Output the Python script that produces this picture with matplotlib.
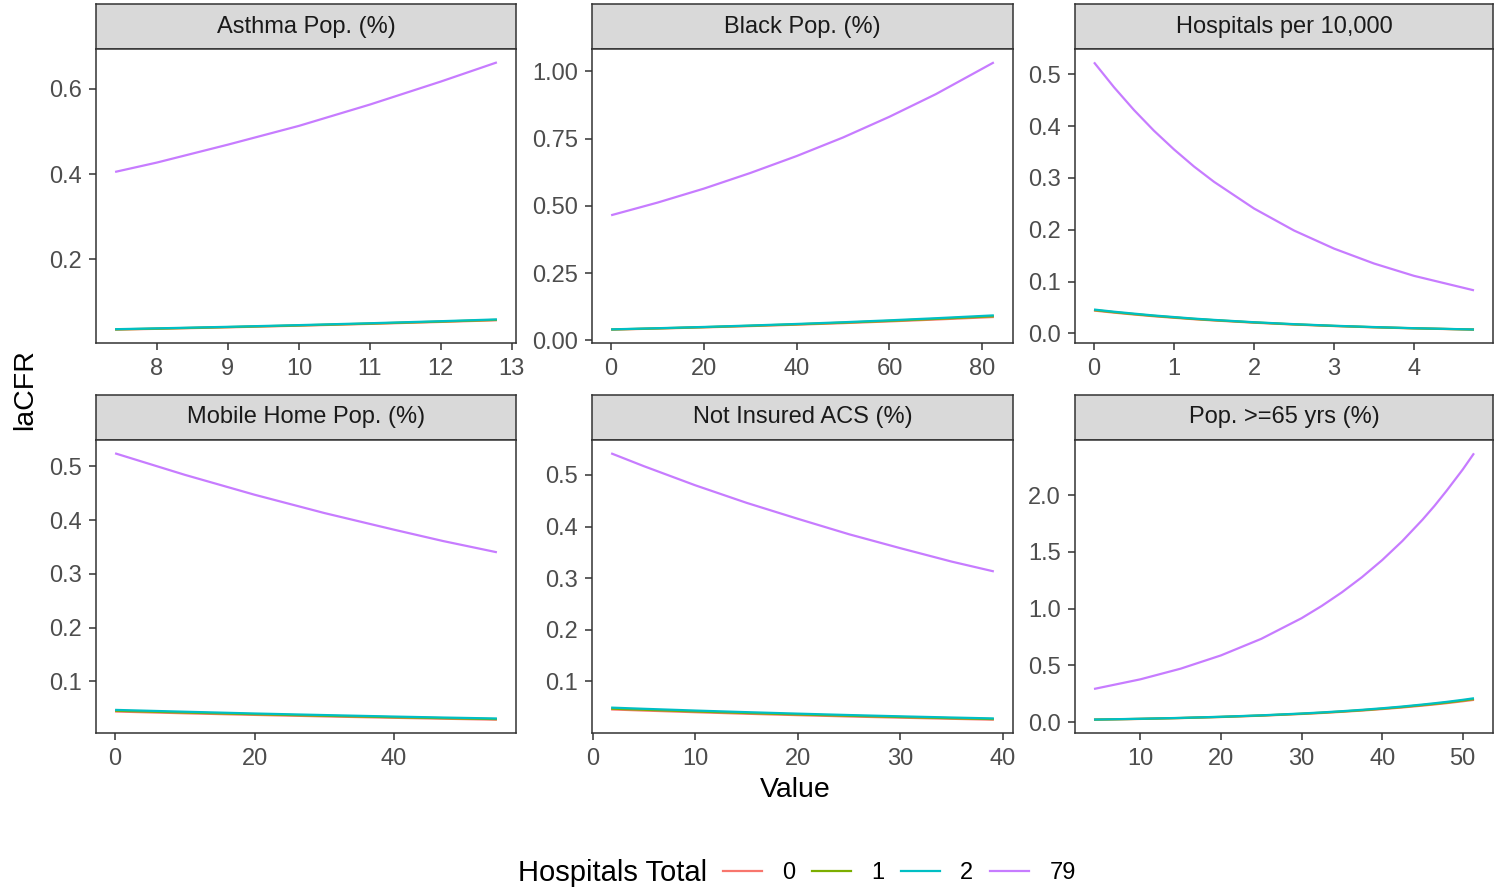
import matplotlib
matplotlib.use('Agg')
import matplotlib.pyplot as plt
from matplotlib.ticker import FormatStrFormatter
from matplotlib.lines import Line2D

plt.rcParams['font.family'] = ['Liberation Sans', 'DejaVu Sans']

groups = ['0', '1', '2', '79']
colors = ['#F8766D', '#7CAE00', '#00BFC4', '#C77CFF']

facet_titles = ['Asthma Pop. (%)', 'Black Pop. (%)', 'Hospitals per 10,000',
                'Mobile Home Pop. (%)', 'Not Insured ACS (%)', 'Pop. >=65 yrs (%)']

asthma_x = [7.41, 8, 9, 10, 11, 12, 12.79]
asthma_y = {
    '0': [0.035, 0.0369, 0.0404, 0.0443, 0.0485, 0.0531, 0.057],
    '1': [0.0355, 0.0374, 0.041, 0.0449, 0.0492, 0.0539, 0.058],
    '2': [0.036, 0.038, 0.0416, 0.0456, 0.0500, 0.0548, 0.059],
    '79': [0.405, 0.427, 0.469, 0.513, 0.563, 0.617, 0.662],
}

black_x = [0, 10, 20, 30, 40, 50, 60, 70, 82.5]
black_y = {
    '0': [0.040, 0.0440, 0.0484, 0.0532, 0.0584, 0.0642, 0.0706, 0.0776, 0.087],
    '1': [0.0405, 0.0447, 0.0492, 0.0543, 0.0598, 0.0659, 0.0726, 0.0800, 0.090],
    '2': [0.041, 0.0453, 0.050, 0.0553, 0.0611, 0.0675, 0.0746, 0.0824, 0.093],
    '79': [0.465, 0.512, 0.564, 0.622, 0.685, 0.754, 0.831, 0.915, 1.033],
}

hosp_x = [0, 0.25, 0.5, 0.75, 1, 1.25, 1.5, 2, 2.5, 3, 3.5, 4, 4.75]
hosp_y = {
    '0': [0.044, 0.040, 0.0364, 0.0330, 0.0301, 0.0273, 0.0249, 0.0206, 0.0170, 0.0141, 0.0116, 0.0096, 0.0072],
    '1': [0.045, 0.0409, 0.0372, 0.0338, 0.0308, 0.0279, 0.0255, 0.0211, 0.0174, 0.0144, 0.0119, 0.0098, 0.0074],
    '2': [0.046, 0.0418, 0.0381, 0.0345, 0.0315, 0.0285, 0.0260, 0.0215, 0.0178, 0.0147, 0.0122, 0.0100, 0.0075],
    '79': [0.523, 0.475, 0.431, 0.391, 0.355, 0.322, 0.2925, 0.241, 0.1985, 0.1636, 0.1348, 0.111, 0.083],
}

mobile_x = [0, 10, 20, 30, 40, 47, 54.75]
mobile_y = {
    '0': [0.044, 0.0407, 0.0377, 0.0349, 0.0323, 0.0306, 0.0288],
    '1': [0.0455, 0.0421, 0.039, 0.0361, 0.0334, 0.0317, 0.0299],
    '2': [0.047, 0.0436, 0.0403, 0.0374, 0.0346, 0.0328, 0.031],
    '79': [0.524, 0.484, 0.447, 0.413, 0.382, 0.361, 0.340],
}

insured_x = [1.8, 5, 10, 15, 20, 25, 30, 35, 39.1]
insured_y = {
    '0': [0.0455, 0.0433, 0.0401, 0.0371, 0.0344, 0.0318, 0.0295, 0.0273, 0.0256],
    '1': [0.047, 0.0449, 0.0416, 0.0386, 0.0358, 0.0332, 0.0308, 0.0285, 0.0268],
    '2': [0.049, 0.0467, 0.0433, 0.0402, 0.0373, 0.0346, 0.0321, 0.0298, 0.028],
    '79': [0.542, 0.517, 0.480, 0.446, 0.415, 0.385, 0.358, 0.332, 0.313],
}

pop65_x = [4.24, 10, 15, 20, 25, 30, 32.5, 35, 37.5, 40, 42.5, 45, 46.5, 48, 50, 51.4]
pop65_y = {
    '0': [0.021, 0.0276, 0.0350, 0.0444, 0.0563, 0.0713, 0.0801, 0.0903, 0.1015, 0.1144,
          0.1286, 0.1450, 0.1554, 0.1668, 0.1835, 0.196],
    '1': [0.0215, 0.0283, 0.0359, 0.0456, 0.0578, 0.0733, 0.0825, 0.093, 0.1047, 0.118,
          0.1328, 0.150, 0.1607, 0.172, 0.1897, 0.203],
    '2': [0.022, 0.029, 0.0368, 0.0468, 0.0594, 0.0754, 0.085, 0.0958, 0.108, 0.1217,
          0.137, 0.1546, 0.166, 0.178, 0.196, 0.21],
    '79': [0.292, 0.377, 0.471, 0.588, 0.734, 0.916, 1.024, 1.144, 1.278, 1.428,
           1.596, 1.784, 1.907, 2.04, 2.227, 2.37],
}

xticks = [[8, 9, 10, 11, 12, 13], [0, 20, 40, 60, 80], [0, 1, 2, 3, 4],
          [0, 20, 40], [0, 10, 20, 30, 40], [10, 20, 30, 40, 50]]
yticks = [[0.2, 0.4, 0.6], [0.0, 0.25, 0.5, 0.75, 1.0], [0.0, 0.1, 0.2, 0.3, 0.4, 0.5],
          [0.1, 0.2, 0.3, 0.4, 0.5], [0.1, 0.2, 0.3, 0.4, 0.5], [0.0, 0.5, 1.0, 1.5, 2.0]]
yfmt = ['%.1f', '%.2f', '%.1f', '%.1f', '%.1f', '%.1f']

panels = [(asthma_x, asthma_y), (black_x, black_y), (hosp_x, hosp_y),
          (mobile_x, mobile_y), (insured_x, insured_y), (pop65_x, pop65_y)]

W, H = 1494, 891
fig = plt.figure(figsize=(W / 100, H / 100), dpi=100)


def px_axes(x0, y0, x1, y1):
    return fig.add_axes([x0 / W, 1 - y1 / H, (x1 - x0) / W, (y1 - y0) / H])


cols = [(96, 516), (592, 1013), (1075, 1493)]
rows = [(4, 49, 343), (395, 440, 733)]
border = '#333333'
small = 17

for i, (xs, ys) in enumerate(panels):
    r, c = divmod(i, 3)
    x0, x1 = cols[c]
    st, pt, pb = rows[r]
    # strip
    sax = px_axes(x0, st, x1, pt)
    sax.set_facecolor('#D9D9D9')
    sax.set_xticks([])
    sax.set_yticks([])
    for s in sax.spines.values():
        s.set_color(border)
        s.set_linewidth(1.1)
    sax.text(0.5, 0.5, facet_titles[i], transform=sax.transAxes, ha='center',
             va='center', fontsize=small, color='#1A1A1A')
    # panel
    ax = px_axes(x0, pt, x1, pb)
    for g, col in zip(groups, colors):
        ax.plot(xs, ys[g], color=col, lw=1.6, solid_capstyle='butt')
    allv = [v for g in groups for v in ys[g]]
    ylo, yhi = min(allv), max(allv)
    xlo, xhi = min(xs), max(xs)
    ax.set_xticks(xticks[i])
    ax.set_yticks(yticks[i])
    ax.set_xlim(xlo - 0.05 * (xhi - xlo), xhi + 0.05 * (xhi - xlo))
    ax.set_ylim(ylo - 0.05 * (yhi - ylo), yhi + 0.05 * (yhi - ylo))
    ax.yaxis.set_major_formatter(FormatStrFormatter(yfmt[i]))
    ax.xaxis.set_major_formatter(FormatStrFormatter('%d'))
    ax.tick_params(axis='both', length=5, width=1.1, color=border,
                   labelsize=small, labelcolor='#4D4D4D')
    ax.tick_params(axis='x', pad=6)
    ax.tick_params(axis='y', pad=5)
    for s in ax.spines.values():
        s.set_color(border)
        s.set_linewidth(1.1)

fig.text(795 / W, 1 - 790 / H, 'Value', ha='center', va='center', fontsize=20.5)
fig.text(25 / W, 1 - 390 / H, 'laCFR', ha='center', va='center', fontsize=20.5,
         rotation=90)

handles = [Line2D([], [], color=col, lw=1.6) for col in colors]
fig.text(707 / W, 1 - 873 / H, 'Hospitals Total', ha='right', va='center',
         fontsize=21)
fig.legend(handles, groups, loc='center left', bbox_to_anchor=(723 / W, 1 - 873 / H),
           ncol=4, frameon=False, fontsize=small, handlelength=1.65,
           handletextpad=0.85, columnspacing=0.72, borderpad=0, borderaxespad=0)

fig.savefig('out.png', dpi=100)
